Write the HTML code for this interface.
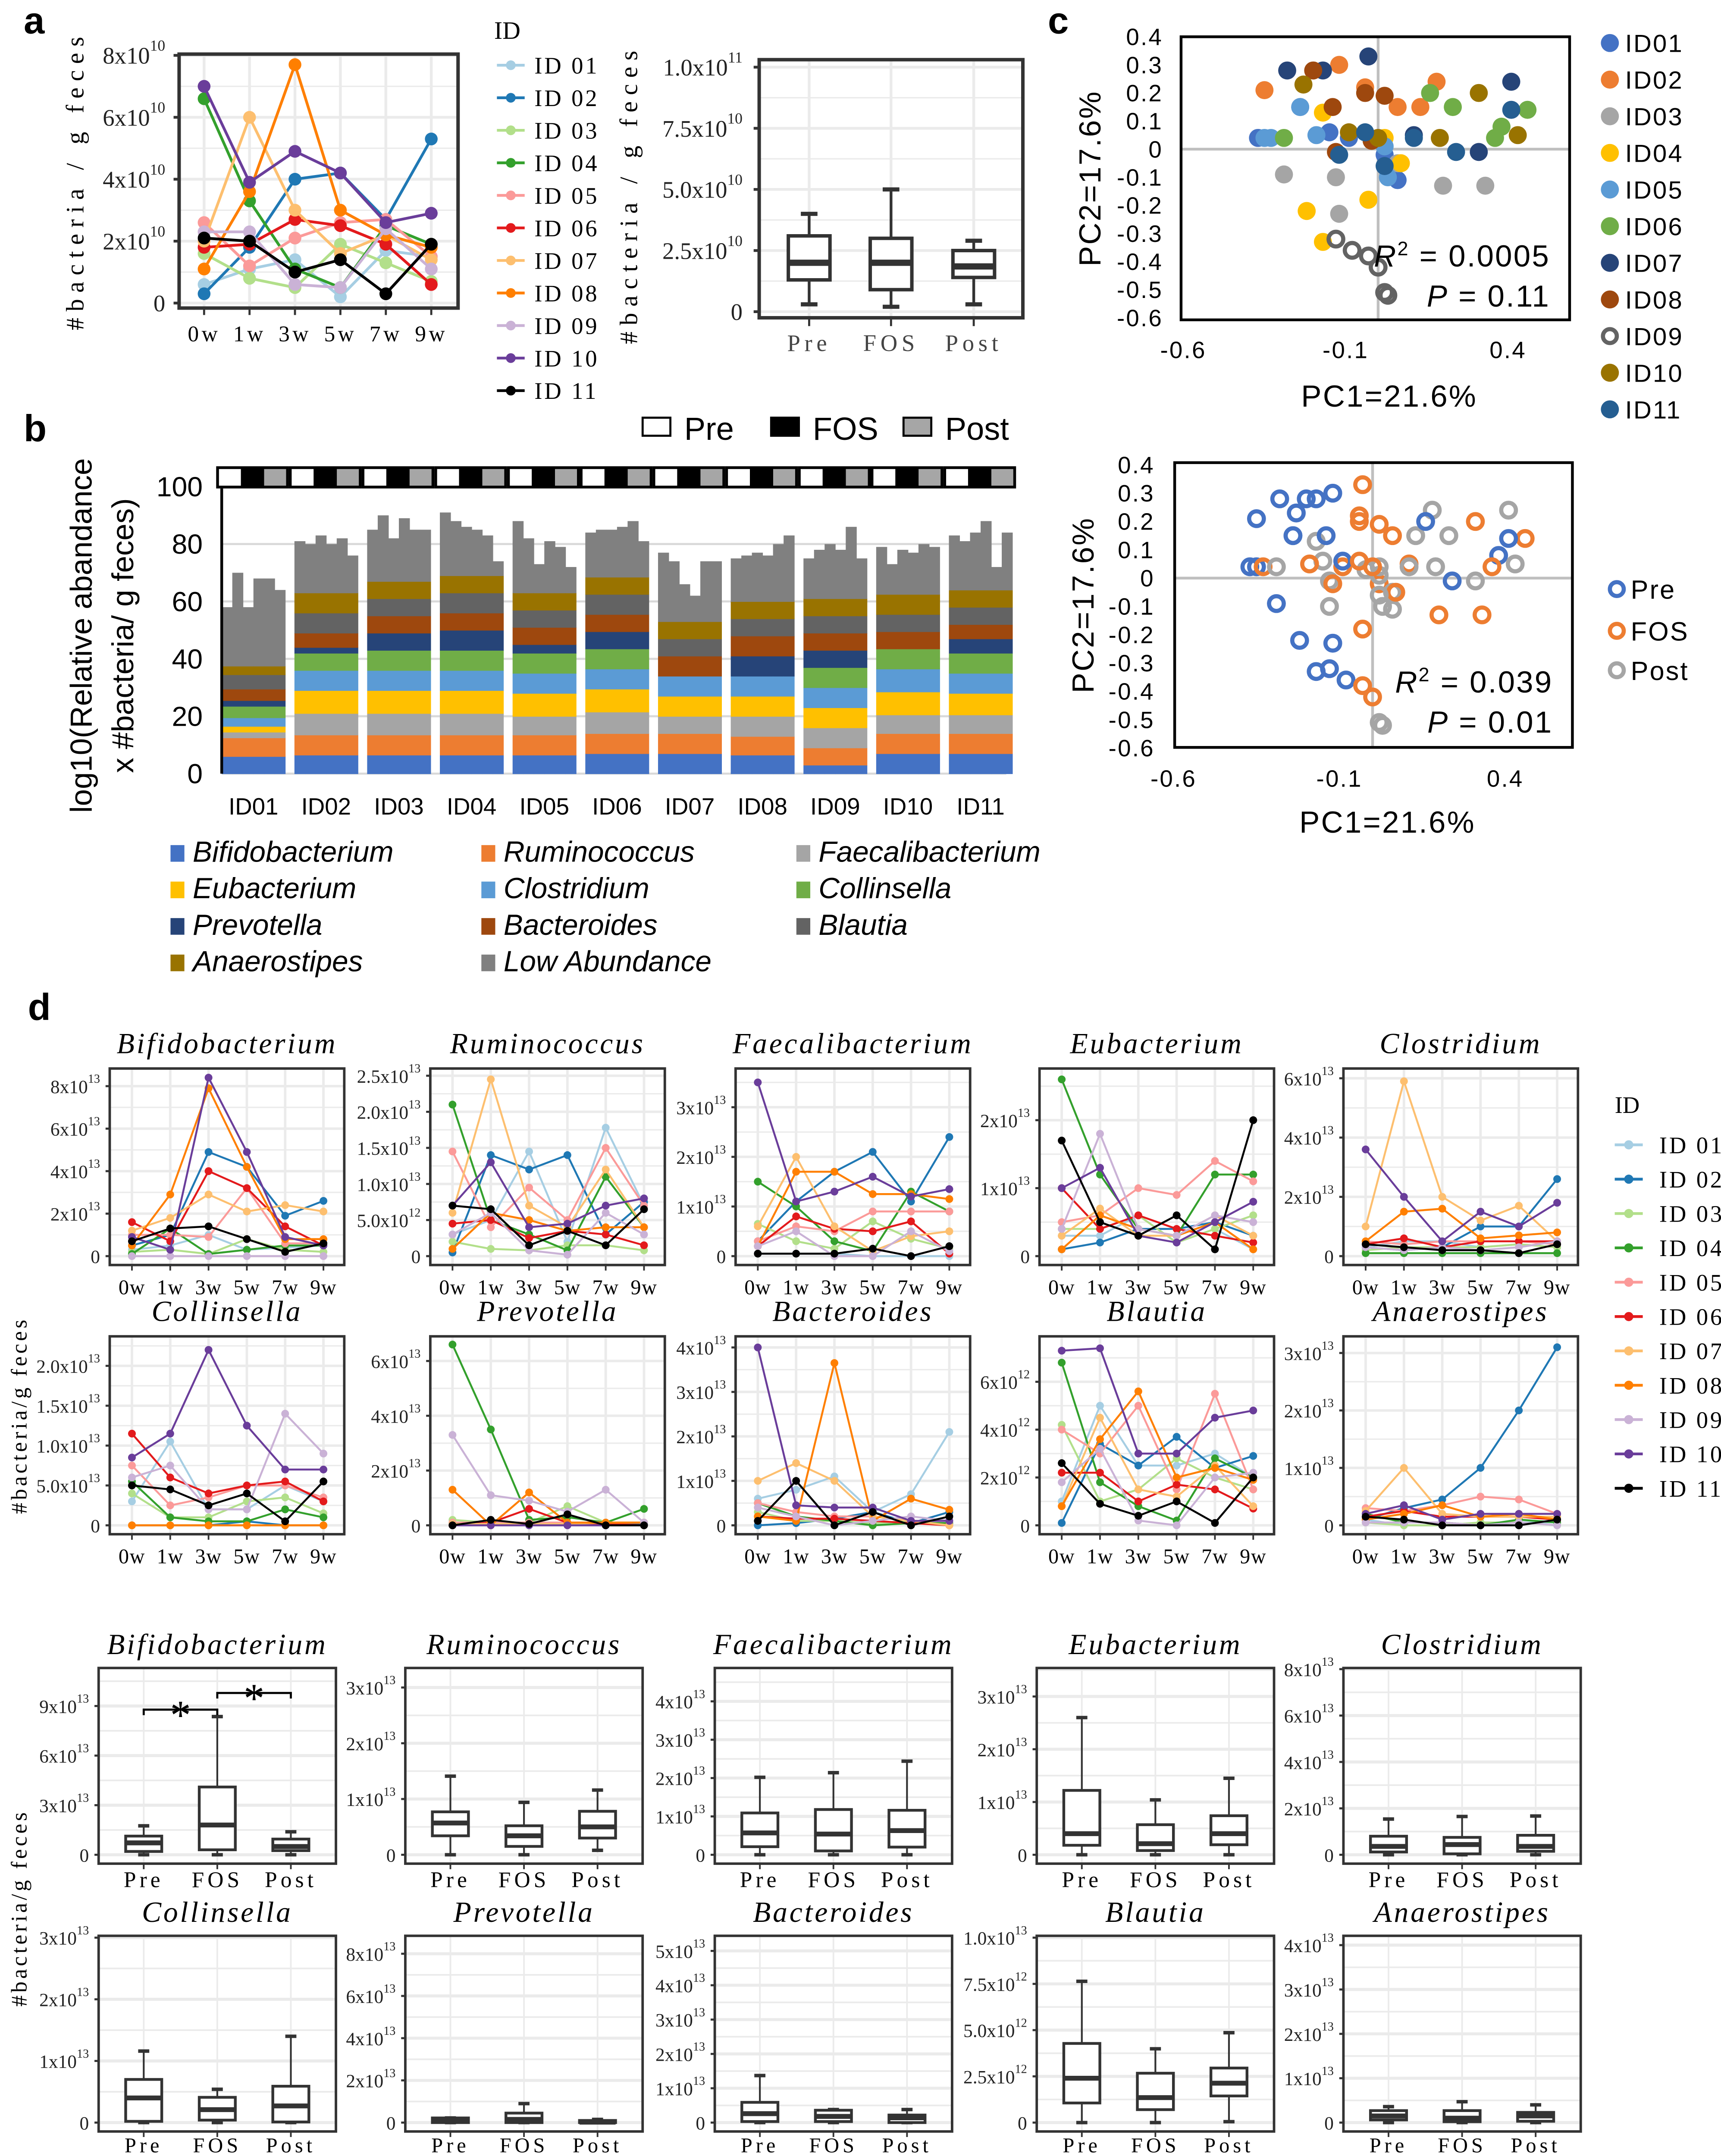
<!DOCTYPE html>
<html><head><meta charset="utf-8"><title>FOS microbiota figure</title>
<style>html,body{margin:0;padding:0;background:#fff;overflow:hidden;width:3991px;height:5030px}svg{display:block}</style></head>
<body>
<svg id="fig" xmlns="http://www.w3.org/2000/svg" width="3991" height="5030" viewBox="0 0 1240 1563">
<rect x="0" y="0" width="1240" height="1563" fill="#fff"/>
</svg>
<script>
// ---------------- DATA ----------------
const ids = ['ID01','ID02','ID03','ID04','ID05','ID06','ID07','ID08','ID09','ID10','ID11'];
const idColors = ['#A6CEE3','#1F78B4','#B2DF8A','#33A02C','#FB9A99','#E31A1C','#FDBF6F','#FF7F00','#CAB2D6','#6A3D9A','#000000'];
const weeks = ['0w','1w','3w','5w','7w','9w'];
const phases = ['Pre','FOS','Post'];

const totalA = [
 [0.6,1.1,1.4,0.2,1.7,1.5],[0.3,1.8,4.0,4.2,2.7,5.3],[1.6,0.8,0.5,1.9,1.3,0.7],[6.6,3.3,1.1,0.5,2.5,1.9],
 [2.6,1.2,2.1,2.6,2.7,1.5],[1.8,1.9,2.7,2.5,1.9,0.6],[2.0,6.0,3.0,1.6,2.2,1.4],[1.1,3.6,7.7,3.0,2.2,1.8],
 [2.3,2.3,0.6,0.5,2.4,1.1],[7.0,3.9,4.9,4.2,2.6,2.9],[2.1,2.0,1.0,1.4,0.3,1.9]];
const aYTicks = [0,2,4,6,8];
const aYLabels = ['0','2x10','4x10','6x10','8x10'];
const aYExp = ['','10','10','10','10'];
const aBox = [[0.3,1.3,2.0,3.1,4.0],[0.2,0.9,2.0,3.0,5.0],[0.3,1.4,1.85,2.5,2.9]];
const aBoxTicks = [0,2.5,5,7.5,10];
const aBoxLabels = ['0','2.5x10','5.0x10','7.5x10','1.0x10'];
const aBoxExp = ['','10','10','10','11'];

const taxa = ['Bifidobacterium','Ruminococcus','Faecalibacterium','Eubacterium','Clostridium','Collinsella','Prevotella','Bacteroides','Blautia','Anaerostipes','Low Abundance'];
const taxaColors = ['#4472C4','#ED7D31','#A5A5A5','#FFC000','#5B9BD5','#70AD47','#264478','#9E480E','#636363','#997300','#808080'];
const layersById = [
 [6,6.5,2,2,3,4,2,4,5,3],[6.5,7,7.5,8,7,6,2,5,7,7],[6.5,7,7.5,8,7,7,6,6,6,6],[6.5,7,7.5,8,7,7,7,6,7,6],
 [6.5,7,6.5,8,7,7,3,6,6,6],[7,7,7.5,8,7,7,6,6,7,6],[7,7,6,7,7,0,0,7,6,6],[6.5,6.5,7,7,7,0,7,7,6,6],
 [3,6,7,7,7,7,6,6,6,6],[7,7,6.5,8,8,7,0,6,6,7],[7,7,6.5,7.5,7,7,5,5,6,6]];
const barTotals = [
 [58,70,58,68,68,64],[81,80,83,80,82,76],[85,90,82,89,85,85],[91,88,86,85,83,74],
 [88,82,73,81,79,72],[84,85,85,86,88,81],[77,74,66,62,74,74],[75,76,77,76,80,83],
 [75,78,80,78,86,75],[79,73,78,77,80,79],[83,81,84,88,72,84]];
const bTicks = [0,20,40,60,80,100];

const pcaColors = ['#4472C4','#ED7D31','#A5A5A5','#FFC000','#5B9BD5','#70AD47','#264478','#9E480E','#636363','#997300','#255E91'];
const pc1 = [
 [-0.37,-0.24,-0.09,0.02,0.06,-0.15],[-0.35,-0.12,-0.04,0.06,0.13,0.18],[-0.29,-0.12,0.20,0.33,0.06,-0.13],
 [-0.22,-0.17,-0.03,0.07,0.02,-0.17],[-0.35,-0.24,-0.19,-0.33,0.02,0.03],[0.16,0.38,0.46,0.36,0.23,-0.29],
 [-0.28,-0.17,-0.03,0.11,0.31,0.41],[-0.20,-0.14,-0.04,0.02,-0.02,-0.13],[-0.13,-0.08,-0.03,0.0,0.02,0.03],
 [-0.23,-0.09,0.0,0.31,0.43,0.19],[0.24,0.41,-0.04,-0.12,0.02,0.11]];
const pc2 = [
 [0.04,0.15,0.04,-0.02,-0.11,0.06],[0.21,0.30,0.22,0.15,0.15,0.24],[-0.09,-0.23,-0.13,-0.13,-0.05,-0.10],
 [-0.22,-0.33,-0.18,-0.05,0.04,0.13],[0.04,0.15,0.05,0.04,0.01,-0.10],[0.20,0.08,0.14,0.04,0.15,0.04],
 [0.28,0.28,0.33,0.05,-0.01,0.24],[0.28,0.15,0.20,0.19,0.03,-0.01],[-0.32,-0.36,-0.38,-0.42,-0.51,-0.52],
 [0.23,0.06,0.04,0.20,0.05,0.04],[-0.01,0.14,0.06,-0.02,-0.06,0.04]];
const samplePhase = [0,0,1,1,2,2];
const phaseColors = ['#4472C4','#ED7D31','#A5A5A5'];
const pcTicks = [0.4,0.3,0.2,0.1,0,-0.1,-0.2,-0.3,-0.4,-0.5,-0.6];
const pcXTicks = [-0.6,-0.1,0.4];

const dTitles = ['Bifidobacterium','Ruminococcus','Faecalibacterium','Eubacterium','Clostridium','Collinsella','Prevotella','Bacteroides','Blautia','Anaerostipes'];
const dTicks = [[0,2,4,6,8],[0,0.5,1,1.5,2,2.5],[0,1,2,3],[0,1,2],[0,2,4,6],[0,0.5,1,1.5,2],[0,2,4,6],[0,1,2,3,4],[0,2,4,6],[0,1,2,3]];
const dTickLabels = [['0','2x10','4x10','6x10','8x10'],['0','5.0x10','1.0x10','1.5x10','2.0x10','2.5x10'],['0','1x10','2x10','3x10'],['0','1x10','2x10'],['0','2x10','4x10','6x10'],['0','5.0x10','1.0x10','1.5x10','2.0x10'],['0','2x10','4x10','6x10'],['0','1x10','2x10','3x10','4x10'],['0','2x10','4x10','6x10'],['0','1x10','2x10','3x10']];
const dTickExp = [['','13','13','13','13'],['','12','13','13','13','13'],['','13','13','13'],['','13','13'],['','13','13','13'],['','13','13','13','13'],['','13','13','13'],['','13','13','13','13'],['','12','12','12'],['','13','13','13']];
const dTop = [8.83,2.6,3.78,2.76,6.33,2.37,6.9,4.25,7.9,3.29];
const bifidoLines = [[0.3,0.5,1.0,0.3,0.4,0.5],[0.5,1.0,4.9,4.2,1.9,2.6],[0.2,0.3,0.1,0.8,0.3,0.2],[0.1,1.3,0.1,0.3,0.5,0.5],[1.0,1.0,0.9,3.2,0.6,0.6],[1.6,0.7,4.0,3.2,1.4,0.5],[1.2,1.8,2.9,2.1,2.4,2.1],[0.5,2.9,7.9,4.2,0.8,0.8],[0.0,0.0,0.0,0.0,0.0,0.0],[0.9,0.3,8.4,4.9,0.9,0.5],[0.7,1.3,1.4,0.8,0.2,0.6]];
const ruminoLines = [[0.3,0.5,1.45,0.2,1.78,0.7],[0.05,1.4,1.2,1.4,0.3,0.75],[0.2,0.1,0.08,0.15,0.15,0.08],[2.1,0.5,0.3,0.08,1.1,0.4],[1.45,0.4,0.95,0.5,1.5,0.7],[0.45,0.5,0.25,0.35,0.3,0.15],[0.6,2.45,0.7,0.4,1.2,0.4],[0.1,0.6,0.5,0.35,0.4,0.4],[0.3,0.6,0.08,0.02,0.6,0.3],[0.7,1.3,0.4,0.45,0.7,0.8],[0.7,0.65,0.15,0.35,0.15,0.65]];
const faecaliLines = [[0.05,0.05,0.05,0.0,0.0,0.0],[0.3,1.1,1.7,2.1,1.1,2.4],[0.65,0.3,0.15,0.7,0.35,0.15],[1.5,1.0,0.3,0.1,1.3,0.9],[0.3,0.6,0.5,0.9,0.9,0.9],[0.2,0.8,0.55,0.5,0.7,0.05],[0.6,2.0,0.6,0.1,0.4,0.5],[0.2,1.7,1.7,1.25,1.25,1.15],[0.2,0.5,0.0,0.0,0.5,0.1],[3.5,1.1,1.3,1.6,1.2,1.35],[0.05,0.05,0.05,0.15,0.0,0.2]];
const eubactLines = [[0.3,0.3,0.6,0.2,0.4,0.1],[0.1,0.2,0.4,0.4,0.5,0.3],[0.4,0.4,0.6,0.2,0.4,0.6],[2.6,1.2,0.4,0.3,1.2,1.2],[0.5,0.6,1.0,0.9,1.4,1.1],[1.0,0.4,0.6,0.4,0.3,0.2],[0.3,0.7,0.3,0.3,0.6,0.3],[0.1,0.6,0.4,0.3,0.5,0.1],[0.4,1.8,0.4,0.3,0.6,0.5],[1.0,1.3,0.3,0.2,0.5,0.8],[1.7,0.5,0.3,0.6,0.1,2.0]];
const clostrLines = [[0.3,0.5,0.5,0.3,0.4,0.3],[0.3,0.2,0.3,1.0,1.0,2.6],[0.2,0.3,0.3,0.3,0.4,0.3],[0.1,0.1,0.1,0.1,0.1,0.1],[0.5,0.4,0.5,0.5,0.5,0.4],[0.4,0.6,0.3,0.5,0.5,0.5],[1.0,5.9,2.0,1.2,1.7,0.5],[0.5,1.5,1.6,0.6,0.7,0.8],[0.3,0.2,0.3,0.2,0.3,0.5],[3.6,2.0,0.5,1.5,1.0,1.8],[0.4,0.3,0.2,0.2,0.1,0.4]];
const collinLines = [[0.3,1.05,0.2,0.2,0.5,0.3],[0.0,0.0,0.0,0.05,0.0,0.0],[0.4,0.1,0.1,0.3,0.35,0.15],[0.55,0.1,0.05,0.05,0.2,0.1],[0.75,0.25,0.35,0.5,0.5,0.35],[1.15,0.6,0.4,0.5,0.55,0.3],[0.0,0.0,0.0,0.0,0.0,0.0],[0.0,0.0,0.0,0.0,0.0,0.0],[0.6,0.75,0.2,0.2,1.4,0.9],[0.85,1.15,2.2,1.25,0.7,0.7],[0.5,0.45,0.25,0.4,0.05,0.55]];
const prevoLines = [[0.1,0.1,0.1,0.1,0.1,0.1],[0.05,0.05,0.05,0.05,0.05,0.05],[0.2,0.1,0.1,0.7,0.1,0.1],[6.6,3.5,0.2,0.3,0.1,0.6],[0.1,0.1,0.1,0.1,0.1,0.1],[0.0,0.1,0.6,0.1,0.05,0.0],[0.05,0.05,0.05,0.05,0.1,0.1],[1.3,0.0,1.2,0.1,0.1,0.1],[3.3,1.1,0.9,0.5,1.3,0.1],[0.0,0.0,0.0,0.0,0.0,0.0],[0.0,0.2,0.05,0.4,0.0,0.0]];
const bacterLines = [[0.6,0.8,1.1,0.3,0.7,2.1],[0.0,0.05,0.15,0.3,0.05,0.3],[0.3,0.1,0.1,0.05,0.1,0.1],[0.5,0.2,0.1,0.0,0.05,0.05],[0.5,0.3,0.2,0.2,0.1,0.1],[0.2,0.15,0.15,0.1,0.05,0.0],[1.0,1.4,1.0,0.2,0.1,0.0],[0.2,0.1,3.65,0.1,0.6,0.35],[0.4,0.2,0.0,0.1,0.2,0.1],[4.0,0.45,0.4,0.4,0.1,0.1],[0.1,1.0,0.0,0.3,0.0,0.2]];
const blautiaLines = [[1.0,5.0,2.5,2.5,3.0,2.0],[0.1,3.4,2.5,3.7,2.4,2.9],[4.2,1.0,1.5,2.8,2.0,1.5],[6.8,1.8,0.8,0.2,2.8,2.0],[4.0,3.0,5.0,1.5,5.5,1.5],[2.2,2.2,1.0,1.7,1.5,0.7],[0.8,4.5,1.5,1.2,2.5,0.8],[0.8,3.6,5.6,2.0,2.4,1.9],[1.8,3.2,0.2,0.0,2.0,2.2],[7.3,7.4,3.0,3.0,4.5,4.8],[2.6,0.9,0.4,1.0,0.1,2.0]];
const anaeroLines = [[0.1,0.0,0.0,0.0,0.05,0.05],[0.1,0.3,0.45,1.0,2.0,3.1],[0.05,0.0,0.0,0.05,0.05,0.0],[0.2,0.05,0.05,0.0,0.1,0.05],[0.3,0.25,0.35,0.5,0.45,0.2],[0.15,0.25,0.15,0.15,0.15,0.1],[0.25,1.0,0.2,0.15,0.15,0.15],[0.1,0.2,0.35,0.15,0.2,0.1],[0.05,0.05,0.05,0.0,0.05,0.0],[0.2,0.35,0.1,0.2,0.2,0.2],[0.15,0.1,0.0,0.0,0.0,0.1]];
const dLines = [bifidoLines,ruminoLines,faecaliLines,eubactLines,clostrLines,collinLines,prevoLines,bacterLines,blautiaLines,anaeroLines];

const bxTicks = [[0,3,6,9],[0,1,2,3],[0,1,2,3,4],[0,1,2,3],[0,2,4,6,8],[0,1,2,3],[0,2,4,6,8],[0,1,2,3,4,5],[0,2.5,5,7.5,10],[0,1,2,3,4]];
const bxTickLabels = [['0','3x10','6x10','9x10'],['0','1x10','2x10','3x10'],['0','1x10','2x10','3x10','4x10'],['0','1x10','2x10','3x10'],['0','2x10','4x10','6x10','8x10'],['0','1x10','2x10','3x10'],['0','2x10','4x10','6x10','8x10'],['0','1x10','2x10','3x10','4x10','5x10'],['0','2.5x10','5.0x10','7.5x10','1.0x10'],['0','1x10','2x10','3x10','4x10']];
const bxTickExp = [['','13','13','13'],['','13','13','13'],['','13','13','13','13'],['','13','13','13'],['','13','13','13','13'],['','13','13','13'],['','13','13','13','13'],['','13','13','13','13','13'],['','12','12','12','13'],['','13','13','13','13']];
const bxTop = [11.3,3.35,4.87,3.54,8.05,3.03,8.85,5.44,10.1,4.21];
const bxStats = [
 [[0,0.2,0.72,1.13,1.75],[0,0.3,1.8,4.1,8.36],[0,0.25,0.5,0.95,1.39]],
 [[0,0.34,0.57,0.77,1.41],[0,0.15,0.34,0.52,0.94],[0.08,0.3,0.5,0.78,1.16]],
 [[0,0.21,0.57,1.09,2.02],[0,0.1,0.54,1.18,2.14],[0,0.2,0.63,1.16,2.44]],
 [[0,0.18,0.4,1.22,2.6],[0,0.08,0.21,0.57,1.04],[0,0.19,0.4,0.74,1.45]],
 [[0,0.12,0.36,0.8,1.54],[0,0.04,0.44,0.75,1.65],[0,0.15,0.36,0.84,1.67]],
 [[0,0.02,0.4,0.7,1.16],[0,0.04,0.21,0.41,0.54],[0,0.01,0.27,0.59,1.4]],
 [[0,0,0.1,0.22,0.22],[0,0,0.15,0.45,0.9],[0,0,0.02,0.1,0.15]],
 [[0,0.03,0.26,0.59,1.37],[0,0.03,0.18,0.36,0.38],[0,0,0.14,0.22,0.38]],
 [[0,1.06,2.4,4.28,7.64],[0,0.7,1.35,2.67,3.99],[0.05,1.44,2.13,2.95,4.86]],
 [[0,0.06,0.15,0.27,0.36],[0,0.02,0.1,0.27,0.47],[0,0.03,0.15,0.23,0.4]]];

// ---------------- DRAWING ----------------
const NS = 'http://www.w3.org/2000/svg';
const svg = document.getElementById('fig');
const SERIF = '"Liberation Serif", serif';
const SANS = '"Liberation Sans", sans-serif';
function mk(tag, attrs, parent) {
  const e = document.createElementNS(NS, tag);
  for (const k in attrs) e.setAttribute(k, attrs[k]);
  (parent || svg).appendChild(e);
  return e;
}
function txt(parent, x, y, s, size, fam, anchor, extra) {
  const t = mk('text', Object.assign({x: x, y: y, 'font-size': size, 'font-family': fam, 'text-anchor': anchor || 'start', fill: '#000'}, extra || {}), parent);
  t.textContent = s;
  return t;
}
function sciTick(parent, x, y, m, e, size) {
  const t = mk('text', {x: x, y: y, 'font-size': size, 'font-family': SERIF, 'text-anchor': 'end', fill: '#222'}, parent);
  
  
  const a = document.createElementNS(NS, 'tspan');
  a.textContent = m;
  t.appendChild(a);
  if (e) {
    const b = document.createElementNS(NS, 'tspan');
    b.setAttribute('dy', -size * 0.55);
    b.setAttribute('font-size', size * 0.65);
    b.textContent = e;
    t.appendChild(b);
  }
  return t;
}
function panelLetter(x, y, s) {
  const t = txt(svg, x, y, s, 27, SANS, 'start', {'font-weight': 'bold'});
  
  
}

// ===== Panel a =====
panelLetter(17, 24, 'a');
(function () {
  const g = mk('g', {});
  
  
  const L = 129, R = 330, T = 39, B = 222;
  const x0 = 147, x1 = 310.7, z = 218.4, k = (218.4 - 39.9) / 8;
  const xs = i => x0 + i * (x1 - x0) / 5;
  const ys = v => z - v * k;
  for (let v = 0; v <= 8; v++) {
    const gl = mk('line', {x1: L, x2: R, y1: ys(v), y2: ys(v), stroke: '#ebebeb', 'stroke-width': v % 2 ? 1 : 2}, g);
    
    
  }
  weeks.forEach((w, i) => {
    const gl = mk('line', {x1: xs(i), x2: xs(i), y1: T, y2: B, stroke: '#ebebeb', 'stroke-width': 2}, g);
    
    
    const tk = mk('line', {x1: xs(i), x2: xs(i), y1: B, y2: B + 5, stroke: '#333', 'stroke-width': 1.5}, g);
    
    
    const t = txt(g, xs(i), B + 24, w, 16, SERIF, 'middle', {'letter-spacing': 2});
    
    
  });
  aYTicks.forEach((v, i) => {
    sciTick(g, L - 10, ys(v) + 6, aYLabels[i], aYExp[i], 17);
    const tk = mk('line', {x1: L - 4, x2: L, y1: ys(v), y2: ys(v), stroke: '#333', 'stroke-width': 2}, g);
    
    
  });
  totalA.forEach((ser, s) => {
    const pl = mk('polyline', {points: ser.map((v, i) => xs(i) + ',' + ys(v)).join(' '), fill: 'none', stroke: idColors[s], 'stroke-width': 2}, g);
    
    
    ser.forEach((v, i) => {
      const c = mk('circle', {cx: xs(i), cy: ys(v), r: 4.6, fill: idColors[s]}, g);
      
      
    });
  });
  const fr = mk('rect', {x: L, y: T, width: R - L, height: B - T, fill: 'none', stroke: '#333', 'stroke-width': 2.5}, g);
  
  
  const yl = txt(g, 0, 0, '#bacteria / g feces', 18, SERIF, 'middle', {'letter-spacing': 4.5, transform: 'translate(60,130) rotate(-90)'});
  
  
  const lt = txt(g, 356, 28, 'ID', 18, SERIF, 'start');
  
  
  ids.forEach((id, s) => {
    const y = 47 + s * 23.45;
    const lg = mk('g', {}, g);
    
    
    mk('line', {x1: 358, x2: 378, y1: y, y2: y, stroke: idColors[s], 'stroke-width': 2}, lg);
    mk('circle', {cx: 368, cy: y, r: 3.5, fill: idColors[s]}, lg);
    txt(lg, 385, y + 6, 'ID ' + id.slice(2), 17, SERIF, 'start', {'letter-spacing': 1.5});
  });
})();

(function () {
  const g = mk('g', {});
  
  
  const L = 547, R = 737, T = 43, B = 229, z = 224.6, k = (224.6 - 48.4) / 10;
  const ys = v => z - v * k;
  const cx = [583, 642, 701.6];
  for (let v = 0; v <= 10; v += 1.25) {
    const gl = mk('line', {x1: L, x2: R, y1: ys(v), y2: ys(v), stroke: '#ebebeb', 'stroke-width': (v % 2.5) ? 1 : 2}, g);
    
    
  }
  aBoxTicks.forEach((v, i) => {
    sciTick(g, L - 12, ys(v) + 6, aBoxLabels[i], aBoxExp[i], 17);
    const tk = mk('line', {x1: L - 4, x2: L, y1: ys(v), y2: ys(v), stroke: '#333', 'stroke-width': 2}, g);
    
    
  });
  aBox.forEach((st, i) => {
    const gl = mk('line', {x1: cx[i], x2: cx[i], y1: T, y2: B, stroke: '#ebebeb', 'stroke-width': 2}, g);
    
    
    const bg = mk('g', {stroke: '#333', fill: '#fff'}, g);
    
    
    mk('line', {x1: cx[i], x2: cx[i], y1: ys(st[0]), y2: ys(st[4]), 'stroke-width': 2}, bg);
    mk('line', {x1: cx[i] - 6, x2: cx[i] + 6, y1: ys(st[0]), y2: ys(st[0]), 'stroke-width': 3}, bg);
    mk('line', {x1: cx[i] - 6, x2: cx[i] + 6, y1: ys(st[4]), y2: ys(st[4]), 'stroke-width': 3}, bg);
    mk('rect', {x: cx[i] - 15, y: ys(st[3]), width: 30, height: ys(st[1]) - ys(st[3]), 'stroke-width': 2.5}, bg);
    mk('line', {x1: cx[i] - 15, x2: cx[i] + 15, y1: ys(st[2]), y2: ys(st[2]), 'stroke-width': 4.5}, bg);
    const tk = mk('line', {x1: cx[i], x2: cx[i], y1: B, y2: B + 6, stroke: '#333', 'stroke-width': 1.5}, g);
    
    
    const t = txt(g, cx[i], B + 24, phases[i], 17, SERIF, 'middle', {'letter-spacing': 3, fill: '#444'});
    
    
  });
  const fr = mk('rect', {x: L, y: T, width: R - L, height: B - T, fill: 'none', stroke: '#333', 'stroke-width': 2.5}, g);
  
  
  const yl = txt(g, 0, 0, '#bacteria / g feces', 18, SERIF, 'middle', {'letter-spacing': 4.5, transform: 'translate(459,140) rotate(-90)'});
  
  
})();

// ===== Panel b =====
panelLetter(17, 318, 'b');
(function () {
  const g = mk('g', {});
  
  
  const L = 159.7, R = 725, z = 557.5, k = (557.5 - 350.7) / 100;
  const ys = v => z - v * k;
  const period = 52.4, gw = 45.7, bw = gw / 6;
  bTicks.forEach(v => {
    const gl = mk('line', {x1: L, x2: R, y1: ys(v), y2: ys(v), stroke: '#d9d9d9', 'stroke-width': 1.5}, g);
    
    
    const t = txt(g, 146, ys(v) + 7, String(v), 20, SANS, 'end');
    
    
  });
  barTotals.forEach((tots, gi) => {
    const gx = L + gi * period;
    const grp = mk('g', {}, g);
    
    
    tots.forEach((tot, bi) => {
      let acc = 0;
      const layers = layersById[gi].concat([Math.max(0, tot - layersById[gi].reduce((a, b) => a + b, 0))]);
      layers.forEach((v, li) => {
        if (v <= 0) return;
        const r = mk('rect', {x: gx + bi * bw, y: ys(acc + v), width: bw + 0.3, height: v * k + 0.3, fill: taxaColors[li]}, grp);
        
        
        acc += v;
      });
    });
    const t = txt(g, gx + gw / 2, 587, ids[gi], 17, SANS, 'middle');
    
    
    const hs = mk('g', {}, g);
    
    
    const hx = L - 3 + gi * period, hw = period - 2;
    ['#fff', '#000', '#a6a6a6'].forEach((c, j) => {
      mk('rect', {x: hx + j * hw / 3, y: 337, width: hw / 3, height: 14, fill: c}, hs);
    });
    mk('rect', {x: hx, y: 337, width: hw, height: 14, fill: 'none', stroke: '#000', 'stroke-width': 2}, hs);
  });
  const ax = mk('line', {x1: L, x2: L, y1: 352, y2: z, stroke: '#000', 'stroke-width': 2}, g);
  
  
  const y1 = txt(g, 0, 0, 'log10(Relative abandance', 22, SANS, 'middle', {transform: 'translate(66,458) rotate(-90)'});
  
  
  const y2 = txt(g, 0, 0, 'x #bacteria/ g feces)', 22, SANS, 'middle', {transform: 'translate(96,458) rotate(-90)'});
  
  
  const phaseFill = ['#fff', '#000', '#a6a6a6'];
  const px = [463, 555.6, 651];
  phases.forEach((p, i) => {
    const le = mk('g', {}, g);
    
    
    mk('rect', {x: px[i], y: 301, width: 20, height: 13, fill: phaseFill[i], stroke: '#000', 'stroke-width': 1.5}, le);
    txt(le, px[i] + 30, 317, p, 23, SANS, 'start');
  });
  const cols = [122.8, 346.8, 573.8];
  taxa.forEach((tx, i) => {
    const r = Math.floor(i / 3), c = i % 3;
    const y = 621 + r * 26.3;
    const le = mk('g', {}, g);
    
    
    mk('rect', {x: cols[c], y: y - 12, width: 10, height: 12, fill: taxaColors[i]}, le);
    txt(le, cols[c] + 16, y, tx, 21, SANS, 'start', {'font-style': 'italic'});
  });
})();

// ===== Panel c =====
panelLetter(755, 24, 'c');
function pcaPanel(opt) {
  const g = mk('g', {});
  
  
  const xs = v => opt.x0 + v * opt.kx;
  const ys = v => opt.y0 - v * opt.ky;
  const zv = mk('line', {x1: xs(0), x2: xs(0), y1: opt.T, y2: opt.B, stroke: '#bfbfbf', 'stroke-width': 2}, g);
  
  
  const zh = mk('line', {x1: opt.L, x2: opt.R, y1: ys(0), y2: ys(0), stroke: '#bfbfbf', 'stroke-width': 2}, g);
  
  
  pcTicks.forEach(v => {
    const t = txt(g, opt.tickX, ys(v) + 6, String(v), 17, SANS, 'end', {'letter-spacing': 1});
    
    
  });
  pcXTicks.forEach(v => {
    const t = txt(g, xs(v), opt.xTickY, String(v), 17, SANS, 'middle', {'letter-spacing': 1});
    
    
  });
  pc1.forEach((arr, s) => {
    arr.forEach((v, j) => {
      let c;
      if (opt.byPhase) {
        c = mk('circle', {cx: xs(v), cy: ys(pc2[s][j]), r: 5.3, fill: 'none', stroke: phaseColors[samplePhase[j]], 'stroke-width': 3}, g);
      } else if (s === 8) {
        c = mk('circle', {cx: xs(v), cy: ys(pc2[s][j]), r: 5.3, fill: 'none', stroke: pcaColors[s], 'stroke-width': 3}, g);
      } else {
        c = mk('circle', {cx: xs(v), cy: ys(pc2[s][j]), r: 6.5, fill: pcaColors[s]}, g);
      }
      
      
    });
  });
  const fr = mk('rect', {x: opt.L, y: opt.T, width: opt.R - opt.L, height: opt.B - opt.T, fill: 'none', stroke: '#000', 'stroke-width': 2}, g);
  
  
  const xl = txt(g, (opt.L + opt.R) / 2 + 10, opt.xTitleY, 'PC1=21.6%', 22, SANS, 'middle', {'letter-spacing': 1});
  
  
  const yl = txt(g, 0, 0, 'PC2=17.6%', 22, SANS, 'middle', {'letter-spacing': 1, transform: 'translate(' + opt.yTitleX + ',' + ((opt.T + opt.B) / 2) + ') rotate(-90)'});
  
  
  const r2 = mk('text', {x: opt.R - 14, y: opt.r2Y, 'font-size': 22, 'font-family': SANS, 'text-anchor': 'end', 'letter-spacing': 1}, g);
  
  
  r2.innerHTML = '<tspan font-style="italic">R</tspan><tspan font-size="14" dy="-8">2</tspan><tspan dy="8"> = ' + opt.r2 + '</tspan>';
  const pv = mk('text', {x: opt.R - 14, y: opt.r2Y + 29, 'font-size': 22, 'font-family': SANS, 'text-anchor': 'end', 'letter-spacing': 1}, g);
  
  
  pv.innerHTML = '<tspan font-style="italic">P</tspan> = ' + opt.p;
  return g;
}
(function () {
  const g = pcaPanel({name: 'panel-c-pca-by-id', L: 851, R: 1131, T: 26.5, B: 230.5, x0: 993, kx: 234, y0: 107.5, ky: 202.5, tickX: 838, xTickY: 258, xTitleY: 293, yTitleX: 793, r2: '0.0005', p: '0.11', r2Y: 192});
  ids.forEach((id, s) => {
    const y = 31 + s * 26.4;
    const le = mk('g', {}, g);
    
    
    if (s === 8) mk('circle', {cx: 1160, cy: y, r: 5, fill: 'none', stroke: pcaColors[s], 'stroke-width': 3}, le);
    else mk('circle', {cx: 1160, cy: y, r: 6.5, fill: pcaColors[s]}, le);
    txt(le, 1171, y + 6.5, id, 18, SANS, 'start', {'letter-spacing': 1});
  });
})();
(function () {
  const g = pcaPanel({name: 'panel-c-pca-by-phase', byPhase: true, L: 846.4, R: 1133, T: 333.4, B: 538.6, x0: 989, kx: 239, y0: 416.6, ky: 204, tickX: 832, xTickY: 567, xTitleY: 600, yTitleX: 788, r2: '0.039', p: '0.01', r2Y: 499});
  const ly = [424.5, 454.6, 483];
  phases.forEach((p, i) => {
    const le = mk('g', {}, g);
    
    
    mk('circle', {cx: 1165, cy: ly[i], r: 5, fill: 'none', stroke: phaseColors[i], 'stroke-width': 3}, le);
    txt(le, 1175, ly[i] + 7, p, 19, SANS, 'start', {'letter-spacing': 1});
  });
})();

// ===== Panel d =====
panelLetter(20, 735, 'd');
const dLefts = [79, 310, 530, 749, 968];
(function () {
  dTitles.forEach((title, p) => {
    const row = Math.floor(p / 5), col = p % 5;
    const L = dLefts[col], R = L + 169;
    const T = row ? 963 : 770, B = row ? 1105.6 : 911.6;
    const z = B - 6.4;
    const ys = v => z - v * (z - T) / dTop[p];
    const xs = i => L + 16 + i * (138 / 5);
    const g = mk('g', {});
    
    
    const ticks = dTicks[p];
    const step = ticks[1] - ticks[0];
    for (let v = step / 2; v < dTop[p]; v += step / 2) {
      const major = Math.abs((v / step) - Math.round(v / step)) < 1e-6;
      const gl = mk('line', {x1: L, x2: R, y1: ys(v), y2: ys(v), stroke: '#ebebeb', 'stroke-width': major ? 1.8 : 1}, g);
      
      
    }
    const g0 = mk('line', {x1: L, x2: R, y1: ys(0), y2: ys(0), stroke: '#ebebeb', 'stroke-width': 1.8}, g);
    
    
    weeks.forEach((w, i) => {
      const gl = mk('line', {x1: xs(i), x2: xs(i), y1: T, y2: B, stroke: '#ebebeb', 'stroke-width': 1.8}, g);
      
      
      const tk = mk('line', {x1: xs(i), x2: xs(i), y1: B, y2: B + 4, stroke: '#333', 'stroke-width': 1.2}, g);
      
      
      const t = txt(g, xs(i), B + 21, w, 15, SERIF, 'middle', {'letter-spacing': 0.5});
      
      
    });
    ticks.forEach((v, i) => {
      sciTick(g, L - 7, ys(v) + 5, dTickLabels[p][i], dTickExp[p][i], 13.5);
      const tk = mk('line', {x1: L - 3, x2: L, y1: ys(v), y2: ys(v), stroke: '#333', 'stroke-width': 1.5}, g);
      
      
    });
    dLines[p].forEach((ser, s) => {
      const pl = mk('polyline', {points: ser.map((v, i) => xs(i) + ',' + ys(v)).join(' '), fill: 'none', stroke: idColors[s], 'stroke-width': 1.4}, g);
      
      
      ser.forEach((v, i) => {
        const c = mk('circle', {cx: xs(i), cy: ys(v), r: 2.8, fill: idColors[s]}, g);
        
        
      });
    });
    const fr = mk('rect', {x: L, y: T, width: R - L, height: B - T, fill: 'none', stroke: '#333', 'stroke-width': 1.8}, g);
    
    
    const tt = txt(g, (L + R) / 2, T - 11, title, 21, SERIF, 'middle', {'font-style': 'italic', 'letter-spacing': 1.5});
    
    
  });
  const yl = txt(svg, 0, 0, '#bacteria/g feces', 16, SERIF, 'middle', {'letter-spacing': 2, transform: 'translate(19,1020) rotate(-90)'});
  
  
  const lt = txt(svg, 1163.5, 802, 'ID', 17, SERIF, 'start');
  
  
  ids.forEach((id, s) => {
    const y = 825 + s * 24.75;
    const le = mk('g', {});
    
    
    mk('line', {x1: 1163.5, x2: 1183.7, y1: y, y2: y, stroke: idColors[s], 'stroke-width': 2}, le);
    mk('circle', {cx: 1173.6, cy: y, r: 3.3, fill: idColors[s]}, le);
    txt(le, 1195.6, y + 6, 'ID ' + id.slice(2), 17, SERIF, 'start', {'letter-spacing': 1.5});
  });
})();

// ===== Panel d boxplots =====
const bxLefts = [71, 292, 515, 747, 968];
(function () {
  dTitles.forEach((title, p) => {
    const row = Math.floor(p / 5), col = p % 5;
    const L = bxLefts[col], R = L + 171;
    const T = row ? 1395 : 1202, B = row ? 1536 : 1343;
    const z = B - 6.4;
    const ys = v => z - v * (z - T) / bxTop[p];
    const w = R - L;
    const cx = [L + 0.19 * w, L + 0.5 * w, L + 0.81 * w];
    const g = mk('g', {});
    
    
    const ticks = bxTicks[p];
    const step = ticks[1] - ticks[0];
    for (let v = 0; v < bxTop[p]; v += step / 2) {
      const major = Math.abs((v / step) - Math.round(v / step)) < 1e-6;
      const gl = mk('line', {x1: L, x2: R, y1: ys(v), y2: ys(v), stroke: '#ebebeb', 'stroke-width': major ? 2.2 : 1.2}, g);
      
      
    }
    ticks.forEach((v, i) => {
      sciTick(g, L - 7, ys(v) + 5, bxTickLabels[p][i], bxTickExp[p][i], 13.5);
      const tk = mk('line', {x1: L - 3, x2: L, y1: ys(v), y2: ys(v), stroke: '#333', 'stroke-width': 1.5}, g);
      
      
    });
    bxStats[p].forEach((st, i) => {
      const gl = mk('line', {x1: cx[i], x2: cx[i], y1: T, y2: B, stroke: '#ebebeb', 'stroke-width': 1.2}, g);
      
      
      const bg = mk('g', {stroke: '#333', fill: '#fff'}, g);
      
      
      mk('line', {x1: cx[i], x2: cx[i], y1: ys(st[0]), y2: ys(st[4]), 'stroke-width': 1.3}, bg);
      mk('line', {x1: cx[i] - 4, x2: cx[i] + 4, y1: ys(st[0]), y2: ys(st[0]), 'stroke-width': 2.5}, bg);
      mk('line', {x1: cx[i] - 4, x2: cx[i] + 4, y1: ys(st[4]), y2: ys(st[4]), 'stroke-width': 2.5}, bg);
      mk('rect', {x: cx[i] - 13, y: ys(st[3]), width: 26, height: Math.max(1, ys(st[1]) - ys(st[3])), 'stroke-width': 2}, bg);
      mk('line', {x1: cx[i] - 13, x2: cx[i] + 13, y1: ys(st[2]), y2: ys(st[2]), 'stroke-width': 3.5}, bg);
      const tk = mk('line', {x1: cx[i], x2: cx[i], y1: B, y2: B + 4, stroke: '#333', 'stroke-width': 1.2}, g);
      
      
      const t = txt(g, cx[i], B + (row ? 15 : 17), phases[i], row ? 15 : 16, SERIF, 'middle', {'letter-spacing': 2.5});
      
      
    });
    const fr = mk('rect', {x: L, y: T, width: R - L, height: B - T, fill: 'none', stroke: '#333', 'stroke-width': 1.8}, g);
    
    
    const tt = txt(g, (L + R) / 2, T - 10, title, 21, SERIF, 'middle', {'font-style': 'italic', 'letter-spacing': 1.5});
    
    
    if (p === 0) {
      const sg = mk('g', {stroke: '#000', fill: 'none', 'stroke-width': 1.5}, g);
      
      
      mk('polyline', {points: cx[0] + ',1236 ' + cx[0] + ',1232 ' + cx[1] + ',1232 ' + cx[1] + ',1236'}, sg);
      mk('polyline', {points: cx[1] + ',1224 ' + cx[1] + ',1220 ' + cx[2] + ',1220 ' + cx[2] + ',1224'}, sg);
      const s1 = txt(g, (cx[0] + cx[1]) / 2, 1246, '*', 30, SERIF, 'middle');
      
      
      const s2 = txt(g, (cx[1] + cx[2]) / 2, 1234, '*', 30, SERIF, 'middle');
      
      
    }
  });
  const yl = txt(svg, 0, 0, '#bacteria/g feces', 16, SERIF, 'middle', {'letter-spacing': 2, transform: 'translate(19,1375) rotate(-90)'});
  
  
})();
</script>
</body></html>
